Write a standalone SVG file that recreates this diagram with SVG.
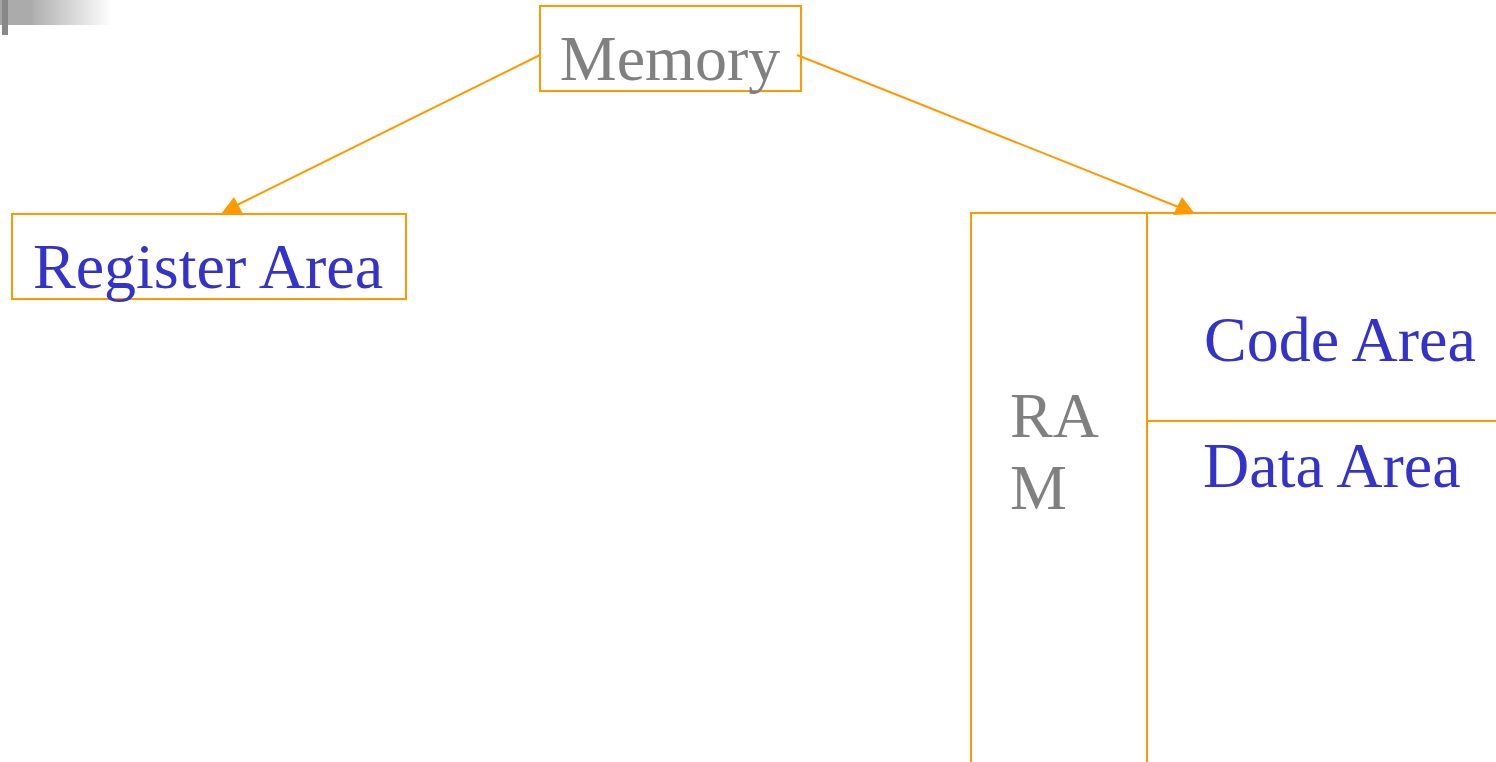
<svg xmlns="http://www.w3.org/2000/svg" width="1496" height="762" viewBox="0 0 1496 762">
<style>
.box{fill:none;stroke:#FF9900;stroke-width:2}
.ln{stroke:#FF9900;stroke-width:2;fill:none}
.ah{fill:#FF9900;stroke:none}
.t{font-family:"Liberation Serif","Times New Roman",serif;font-size:64px}
.blue{fill:#3333CC}
.gray{fill:#808080}
</style>
<defs>
<linearGradient id="g" x1="0" y1="0" x2="1" y2="0">
<stop offset="0" stop-color="#a4a4a4"/>
<stop offset="0.3" stop-color="#b0b0b0"/>
<stop offset="1" stop-color="#ffffff"/>
</linearGradient>
</defs>
<rect width="1496" height="762" fill="#fff"/>
<g id="decoration">
<rect x="0" y="0" width="112" height="25" fill="url(#g)"/>
<rect x="2" y="0" width="31" height="25" fill="#ababab"/>
<rect x="2" y="0" width="6" height="35" fill="#888"/>
</g>
<g id="connectors">
<line class="ln" x1="540" y1="55" x2="237" y2="205"/>
<polygon class="ah" points="221,214 243,214 234,197"/>
<line class="ln" x1="797" y1="55" x2="1181" y2="208"/>
<polygon class="ah" points="1173,215 1195,214 1182,197"/>
</g>
<g id="memory">
<rect class="box" x="540" y="6" width="261" height="85"/>
<text class="t gray" x="670" y="80" text-anchor="middle">Memory</text>
</g>
<g id="register">
<rect class="box" x="12" y="214" width="394" height="85"/>
<text class="t blue" x="208" y="288" text-anchor="middle">Register Area</text>
</g>
<g id="ram">
<path class="ln" d="M971,762 V213 H1496 M1147,213 V762 M1147,421 H1496"/>
<text class="t gray" x="1010" y="437">RA</text>
<text class="t gray" x="1010" y="509">M</text>
</g>
<g id="code">
<text class="t blue" x="1204" y="361">Code Area</text>
</g>
<g id="data">
<text class="t blue" x="1203" y="487">Data Area</text>
</g>
</svg>
